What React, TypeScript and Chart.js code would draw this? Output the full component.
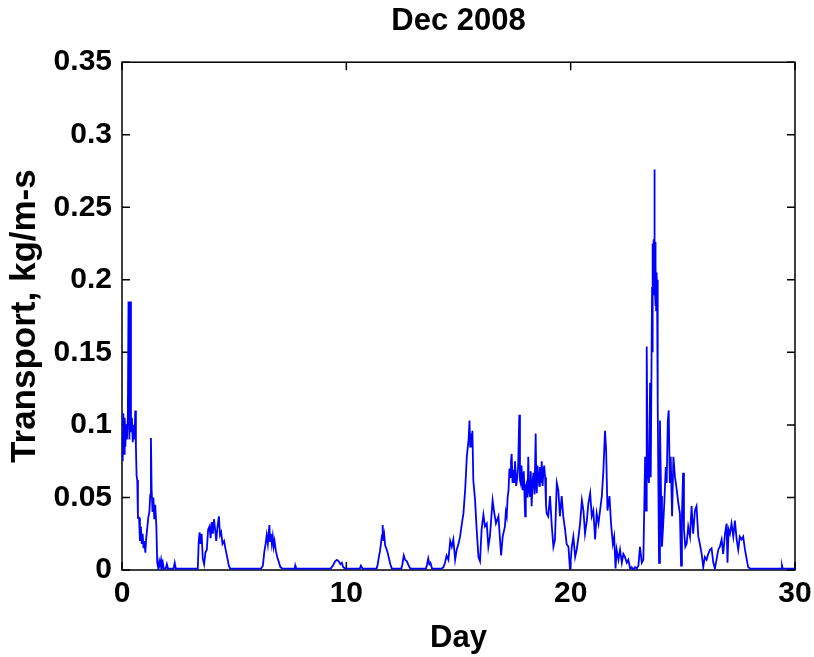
import React, { useEffect, useRef } from 'react';
import { Chart, registerables } from 'chart.js';

Chart.register(...registerables);

const FONT = '"Liberation Sans", Arial, Helvetica, sans-serif';

const TITLE = 'Dec 2008';
const X_LABEL = 'Day';
const Y_LABEL = 'Transport, kg/m-s';
const X_MIN = 0;
const X_MAX = 30;
const X_STEP = 10;
const Y_MIN = 0;
const Y_MAX = 0.35;
const Y_STEP = 0.05;

// time in days
const days: number[] = [
  // day 0 - 2.5
  0.00, 0.03, 0.06, 0.09, 0.12, 0.15, 0.18, 0.22, 0.26, 0.29,
  0.33, 0.36, 0.40, 0.44, 0.48, 0.52, 0.56, 0.59, 0.62, 0.65,
  0.68, 0.71, 0.76, 0.80, 0.84, 0.88, 0.92, 0.96, 1.00, 1.04,
  1.08, 1.12, 1.17, 1.22, 1.26, 1.29, 1.32, 1.36, 1.40, 1.44,
  1.48, 1.53, 1.57, 1.62, 1.66, 1.70, 1.74, 1.78, 1.82, 1.86,
  1.95, 2.00, 2.05, 2.30, 2.35, 2.40, 2.48,
  // day 3.4 - 4.8
  3.38, 3.42, 3.46, 3.50, 3.55, 3.60, 3.66, 3.72, 3.78, 3.84,
  3.90, 3.95, 4.00, 4.05, 4.10, 4.15, 4.20, 4.26, 4.32, 4.37,
  4.42, 4.48, 4.55, 4.62, 4.70, 4.76, 4.82,
  // day 6.2 - 7.8
  6.20, 6.28, 6.34, 6.40, 6.45, 6.50, 6.54, 6.57, 6.60, 6.64,
  6.68, 6.72, 6.76, 6.80, 6.86, 6.92, 6.98, 7.06, 7.15, 7.70,
  7.72, 7.75,
  // day 9.3 - 10.7
  9.30, 9.40, 9.50, 9.58, 9.66, 9.74, 9.80, 9.86, 9.95, 10.60,
  10.65, 10.72,
  // day 11.3 - 14.2
  11.35, 11.40, 11.45, 11.50, 11.55, 11.59, 11.62, 11.65, 11.69, 11.73,
  11.78, 11.84, 11.90, 11.96, 12.03, 12.45, 12.50, 12.56, 12.62, 12.70,
  12.78, 12.85, 13.55, 13.60, 13.65, 13.70, 13.75, 13.82, 14.15,
  // day 14.2 - 17.1
  14.25, 14.33, 14.40, 14.47, 14.55, 14.63, 14.70, 14.77, 14.85, 14.92,
  15.00, 15.07, 15.15, 15.22, 15.30, 15.37, 15.45, 15.49, 15.52, 15.55,
  15.59, 15.62, 15.66, 15.74, 15.81, 15.89, 15.96, 16.03, 16.11, 16.18,
  16.26, 16.33, 16.40, 16.52, 16.58, 16.67, 16.78, 16.85, 16.90, 16.97,
  // day 17.1 - 19.0
  17.07, 17.11, 17.15, 17.19, 17.23, 17.27, 17.30, 17.34, 17.37, 17.41,
  17.45, 17.49, 17.52, 17.57, 17.62, 17.66, 17.71, 17.74, 17.77, 17.81,
  17.86, 17.91, 17.97, 18.00, 18.04, 18.08, 18.11, 18.15, 18.19, 18.22,
  18.26, 18.30, 18.34, 18.39, 18.44, 18.47, 18.49, 18.52, 18.56, 18.60,
  18.63, 18.67, 18.71, 18.75, 18.78, 18.82, 18.86, 18.90,
  // day 19.0 - 21.3
  18.93, 19.00, 19.08, 19.16, 19.23, 19.30,
  19.38, 19.45, 19.52, 19.60, 19.67, 19.75, 19.82, 19.90, 19.97, 20.05,
  20.12, 20.20, 20.27, 20.35, 20.42, 20.50, 20.57, 20.64, 20.72, 20.79,
  20.87, 20.94, 21.01, 21.09, 21.16, 21.24,
  // day 21.3 - 23.6
  21.31, 21.39, 21.46, 21.53, 21.58, 21.64, 21.73, 21.80, 21.88, 21.94,
  22.00, 22.05, 22.13, 22.20, 22.28, 22.35, 22.42, 22.50, 22.57, 22.65,
  22.72, 22.79, 22.87, 22.94, 23.02, 23.09, 23.17, 23.24, 23.32, 23.36,
  23.39, 23.43, 23.49, 23.54, 23.57,
  // day 23.6 - 23.9
  23.61, 23.63, 23.64, 23.65, 23.66, 23.67, 23.68, 23.69, 23.70, 23.71,
  23.72, 23.73, 23.74, 23.75, 23.76, 23.77, 23.78, 23.80, 23.81, 23.83,
  23.85, 23.87, 23.89, 23.94,
  // day 24 - 30
  23.98, 24.03, 24.07, 24.12, 24.18, 24.24, 24.28, 24.33, 24.37, 24.42,
  24.46, 24.52, 24.58, 24.65, 24.73, 24.80, 24.87, 24.92, 24.96, 25.01,
  25.05, 25.11, 25.17, 25.24, 25.32, 25.39, 25.46, 25.54, 25.61, 25.69,
  25.76, 25.84, 25.91, 25.98, 26.06, 26.13, 26.21, 26.28, 26.36, 26.43,
  26.50, 26.58, 26.65, 26.73, 26.80, 26.88, 26.95, 26.99, 27.04, 27.10,
  27.17, 27.25, 27.32, 27.40, 27.47, 27.54, 27.62, 27.69, 27.77, 27.84,
  27.91, 27.99, 28.10, 29.40, 29.42, 29.45, 30.00,
];

// transport, kg/m-s
const transport: number[] = [
  // day 0 - 2.5
  0.095, 0.075, 0.108, 0.080, 0.105, 0.085, 0.100, 0.090, 0.105, 0.185,
  0.090, 0.185, 0.095, 0.105, 0.088, 0.100, 0.090, 0.110, 0.085, 0.065,
  0.062, 0.036, 0.036, 0.020, 0.030, 0.018, 0.025, 0.015, 0.020, 0.012,
  0.022, 0.028, 0.036, 0.040, 0.052, 0.091, 0.056, 0.040, 0.050, 0.035,
  0.045, 0.031, 0.005, 0.001, 0.006, 0.003, 0.007, 0.002, 0.005, 0.001,
  0.001, 0.004, 0.001, 0.001, 0.005, 0.001, 0.001,
  // day 3.4 - 4.8
  0.001, 0.020, 0.026, 0.018, 0.025, 0.008, 0.004, 0.012, 0.014, 0.028,
  0.030, 0.022, 0.033, 0.025, 0.035, 0.028, 0.020, 0.030, 0.037, 0.024,
  0.026, 0.018, 0.020, 0.014, 0.008, 0.003, 0.001,
  // day 6.2 - 7.8
  0.001, 0.003, 0.012, 0.018, 0.024, 0.018, 0.026, 0.031, 0.020, 0.025,
  0.018, 0.023, 0.016, 0.020, 0.013, 0.009, 0.006, 0.002, 0.001, 0.001,
  0.003, 0.001,
  // day 9.3 - 10.7
  0.001, 0.003, 0.006, 0.007, 0.006, 0.004, 0.005, 0.002, 0.001, 0.001,
  0.003, 0.001,
  // day 11.3 - 14.2
  0.001, 0.004, 0.009, 0.013, 0.019, 0.024, 0.031, 0.020, 0.024, 0.017,
  0.015, 0.012, 0.008, 0.004, 0.001, 0.001, 0.004, 0.010, 0.007, 0.006,
  0.003, 0.001, 0.001, 0.004, 0.008, 0.004, 0.005, 0.001, 0.001,
  // day 14.2 - 17.1
  0.001, 0.002, 0.005, 0.010, 0.007, 0.020, 0.016, 0.021, 0.007, 0.014,
  0.018, 0.023, 0.032, 0.039, 0.056, 0.078, 0.090, 0.103, 0.085, 0.094,
  0.087, 0.096, 0.062, 0.048, 0.028, 0.009, 0.006, 0.028, 0.038, 0.030,
  0.032, 0.016, 0.023, 0.048, 0.041, 0.032, 0.037, 0.021, 0.010, 0.023,
  // day 17.1 - 19.0
  0.030, 0.040, 0.037, 0.050, 0.055, 0.070, 0.064, 0.075, 0.080, 0.060,
  0.069, 0.060, 0.075, 0.058, 0.064, 0.072, 0.107, 0.062, 0.060, 0.072,
  0.055, 0.068, 0.037, 0.058, 0.060, 0.050, 0.078, 0.055, 0.051, 0.068,
  0.044, 0.060, 0.067, 0.052, 0.094, 0.058, 0.053, 0.072, 0.064, 0.058,
  0.071, 0.060, 0.075, 0.058, 0.067, 0.072, 0.064, 0.045,
  // day 19.0 - 21.3
  0.039, 0.037, 0.051, 0.030, 0.016, 0.021,
  0.060, 0.055, 0.037, 0.051, 0.037, 0.028, 0.018, 0.016, 0.000, 0.016,
  0.023, 0.009, 0.014, 0.023, 0.032, 0.048, 0.041, 0.025, 0.034, 0.046,
  0.053, 0.037, 0.041, 0.021, 0.039, 0.032,
  // day 21.3 - 23.6
  0.041, 0.051, 0.069, 0.096, 0.083, 0.041, 0.051, 0.032, 0.018, 0.023,
  0.001, 0.014, 0.007, 0.014, 0.005, 0.011, 0.009, 0.005, 0.007, 0.001,
  0.002, 0.000, 0.002, 0.001, 0.003, 0.016, 0.005, 0.007, 0.078, 0.041,
  0.154, 0.069, 0.060, 0.129, 0.064,
  // day 23.6 - 23.9
  0.156, 0.195, 0.150, 0.205, 0.185, 0.225, 0.190, 0.228, 0.195, 0.224,
  0.200, 0.276, 0.205, 0.228, 0.192, 0.226, 0.182, 0.210, 0.179, 0.205,
  0.195, 0.200, 0.115, 0.005,
  // day 24 - 30
  0.103, 0.051, 0.016, 0.030, 0.048, 0.071, 0.060, 0.103, 0.110, 0.060,
  0.078, 0.037, 0.078, 0.064, 0.055, 0.046, 0.039, 0.003, 0.037, 0.067,
  0.028, 0.016, 0.018, 0.030, 0.023, 0.044, 0.025, 0.041, 0.044, 0.023,
  0.018, 0.011, 0.002, 0.009, 0.007, 0.011, 0.014, 0.015, 0.005, 0.001,
  0.007, 0.014, 0.016, 0.021, 0.011, 0.025, 0.032, 0.005, 0.028, 0.025,
  0.032, 0.023, 0.034, 0.021, 0.014, 0.023, 0.021, 0.023, 0.014, 0.008,
  0.002, 0.001, 0.001, 0.001, 0.003, 0.001, 0.001,
];

const frameAndTicks = {
  id: 'frameAndTicks',
  beforeDatasetsDraw(chart: any) {
    const { ctx, chartArea: a, scales } = chart;
    const len = 8;
    ctx.save();
    ctx.strokeStyle = '#000';
    ctx.lineWidth = 1.5;
    ctx.beginPath();
    scales.x.ticks.forEach((t: any) => {
      const px = scales.x.getPixelForValue(t.value);
      ctx.moveTo(px, a.bottom);
      ctx.lineTo(px, a.bottom - len);
      ctx.moveTo(px, a.top);
      ctx.lineTo(px, a.top + len);
    });
    scales.y.ticks.forEach((t: any) => {
      const py = scales.y.getPixelForValue(t.value);
      ctx.moveTo(a.left, py);
      ctx.lineTo(a.left + len, py);
      ctx.moveTo(a.right, py);
      ctx.lineTo(a.right - len, py);
    });
    ctx.stroke();
    ctx.strokeRect(a.left, a.top, a.right - a.left, a.bottom - a.top);
    ctx.restore();
  },
};

export default function App() {
  const ref = useRef<HTMLCanvasElement | null>(null);

  useEffect(() => {
    if (!ref.current) return;
    const font = (size: number) => ({ family: FONT, size, weight: 'bold' as const });
    const chart = new Chart(ref.current, {
      type: 'line',
      data: {
        datasets: [
          {
            data: days.map((d, i) => ({ x: d, y: transport[i] })),
            borderColor: '#0000ff',
            borderWidth: 1.8,
            pointRadius: 0,
            tension: 0,
            fill: false,
          },
        ],
      },
      options: {
        responsive: false,
        animation: false,
        layout: { padding: { left: 0, right: 19, top: 0, bottom: 0 } },
        plugins: {
          legend: { display: false },
          tooltip: { enabled: false },
          title: {
            display: true,
            fullSize: false,
            text: TITLE,
            color: '#000',
            font: font(31),
            padding: { top: 3, bottom: 22 },
          },
        },
        scales: {
          x: {
            type: 'linear',
            min: X_MIN,
            max: X_MAX,
            ticks: {
              stepSize: X_STEP,
              color: '#000',
              font: font(30),
              padding: 6,
              maxRotation: 0,
            },
            grid: { display: false, drawTicks: false },
            border: { display: false },
            title: {
              display: true,
              text: X_LABEL,
              color: '#000',
              font: font(31),
              padding: { top: 0, bottom: 0 },
            },
            afterFit: (s: any) => {
              s.height = 87;
              s.paddingLeft = 0;
              s.paddingRight = 0;
            },
          },
          y: {
            type: 'linear',
            min: Y_MIN,
            max: Y_MAX,
            ticks: {
              stepSize: Y_STEP,
              color: '#000',
              font: font(30),
              padding: 10,
              callback: (v: any) => String(Number(Number(v).toFixed(2))),
            },
            grid: { display: false, drawTicks: false },
            border: { display: false },
            title: {
              display: true,
              text: Y_LABEL,
              color: '#000',
              font: font(35),
              padding: { top: 4, bottom: 0 },
            },
            afterFit: (s: any) => {
              s.width = 122;
              s.paddingTop = 0;
              s.paddingBottom = 0;
            },
          },
        },
      },
      plugins: [frameAndTicks],
    });
    return () => chart.destroy();
  }, []);

  return (
    <div style={{ position: 'absolute', left: 0, top: 0, width: 814, height: 657, background: '#fff' }}>
      <canvas ref={ref} width={814} height={657} style={{ display: 'block' }} />
    </div>
  );
}
